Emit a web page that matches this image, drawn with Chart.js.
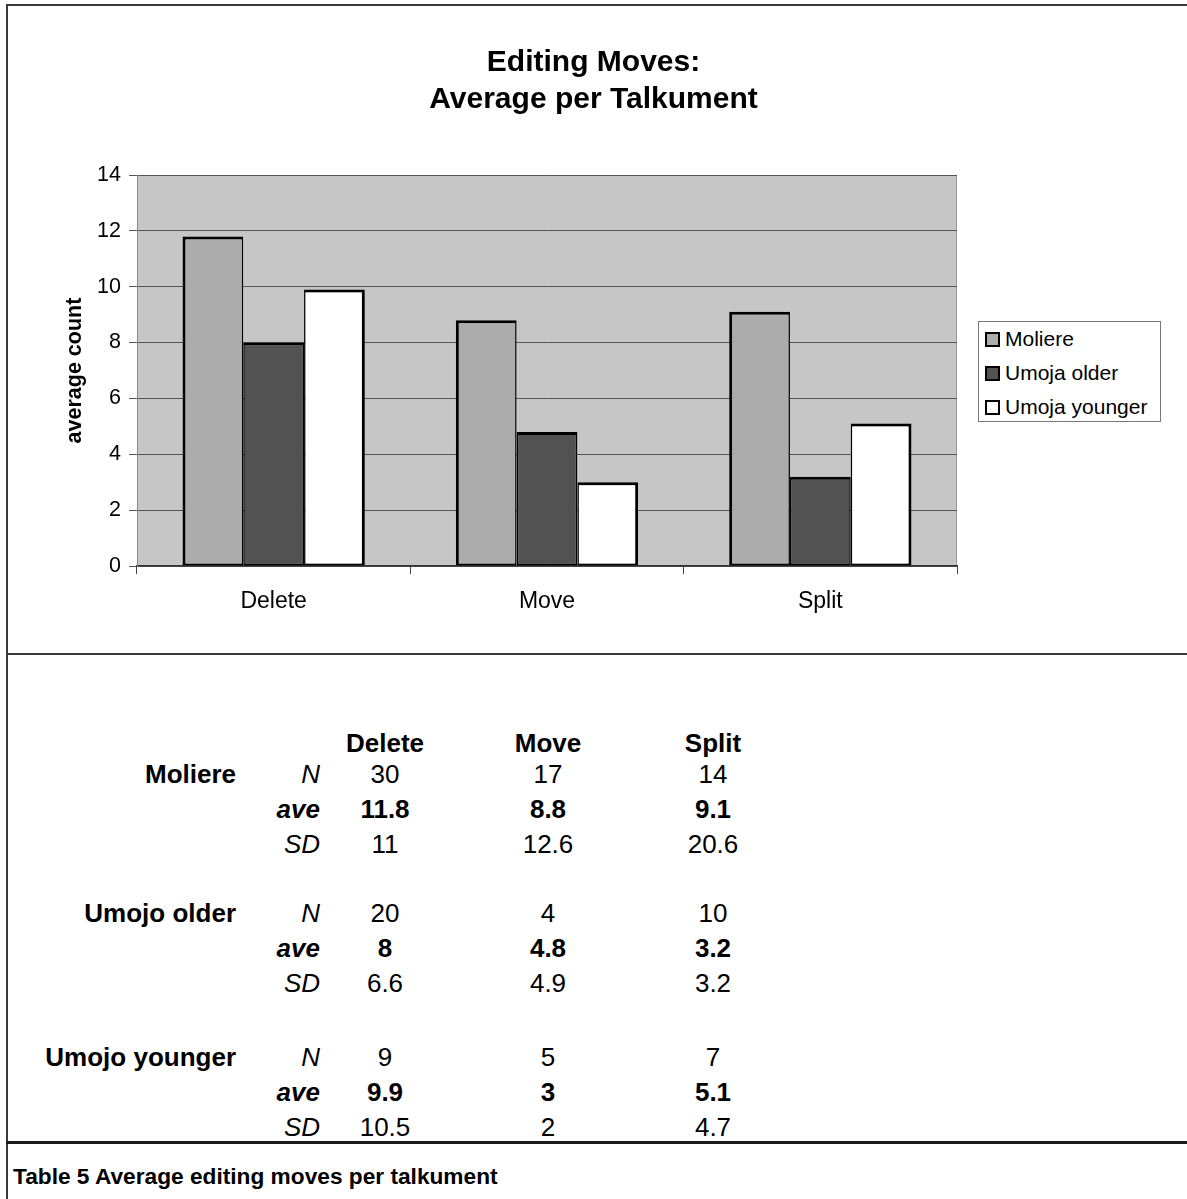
<!DOCTYPE html>
<html>
<head>
<meta charset="utf-8">
<title>Editing Moves</title>
<script src="https://cdn.jsdelivr.net/npm/chart.js@4.4.1/dist/chart.umd.min.js"></script>
<style>
  html, body { margin: 0; padding: 0; background: #fff; }
  body { width: 1187px; height: 1199px; position: relative; overflow: hidden;
         font-family: "Liberation Sans", Arial, sans-serif; color: #000; }
  #chart { position: absolute; left: 0; top: 0; }
  .rule { position: absolute; background: #3a3a3a; }
  #chart-legend { position: absolute; left: 978px; top: 321px; width: 181px; height: 99px;
                  border: 1px solid #777; background: #fff; }
  #chart-legend ul { list-style: none; margin: 0; padding: 0; }
  #chart-legend li { position: absolute; left: 6px; height: 24px; line-height: 24px; font-size: 21px; white-space: nowrap; }
  #chart-legend li span { display: inline-block; width: 11px; height: 11px; border: 2px solid #000;
                          margin-right: 5px; vertical-align: -1px; }
  .cell { position: absolute; height: 30px; line-height: 30px; font-size: 26px; white-space: nowrap; }
  .caption { position: absolute; left: 13px; top: 1163px; font-size: 22.7px; font-weight: bold; }
</style>
</head>
<body>
<div class="rule" style="left:6px; top:4px; width:1181px; height:2px;"></div>
<div class="rule" style="left:6px; top:4px; width:2px; height:1195px;"></div>
<div class="rule" style="left:6px; top:653px; width:1181px; height:2px;"></div>
<div class="rule" style="left:6px; top:1141px; width:1181px; height:3px; background:#1a1a1a;"></div>

<canvas id="chart" width="1187" height="640"></canvas>
<div id="chart-legend"></div>
<div id="table"></div>
<div class="caption">Table 5 Average editing moves per talkument</div>

<script>
// categories and series
var categories = ['Delete', 'Move', 'Split'];
var seriesNames = ['Moliere', 'Umoja older', 'Umoja younger'];
var tableNames = ['Moliere', 'Umojo older', 'Umojo younger'];
var statNames = ['N', 'ave', 'SD'];
var yTicks = [0, 2, 4, 6, 8, 10, 12, 14];

// per-group numbers (N, average, standard deviation) for Delete / Move / Split
var moliereN = [30, 17, 14];
var moliereAve = [11.8, 8.8, 9.1];
var moliereSD = [11, 12.6, 20.6];

var olderN = [20, 4, 10];
var olderAve = [8, 4.8, 3.2];
var olderSD = [6.6, 4.9, 3.2];

var youngerN = [9, 5, 7];
var youngerAve = [9.9, 3, 5.1];
var youngerSD = [10.5, 2, 4.7];

var FONT = '"Liberation Sans", Arial, sans-serif';
Chart.defaults.font.family = FONT;
Chart.defaults.color = '#000';

// grey fill behind the plot
var plotBackground = {
    id: 'plotBackground',
    beforeDraw: function(chart) {
        var a = chart.chartArea;
        var c = chart.ctx;
        c.save();
        c.fillStyle = '#c6c6c6';
        c.fillRect(a.left, a.top, a.right - a.left, a.bottom - a.top);
        c.strokeStyle = '#9a9a9a';
        c.lineWidth = 1;
        c.strokeRect(a.left + 0.5, a.top + 0.5, a.right - a.left - 1, a.bottom - a.top - 1);
        c.restore();
    }
};

var ctx = document.getElementById('chart');

var myChart = new Chart(ctx, {
    type: 'bar',
    data: {
        labels: categories,
        datasets: [{
            label: seriesNames[0],
            data: moliereAve,
            backgroundColor: '#acacac',
            borderColor: '#000',
            borderWidth: {top: 3, bottom: 2, left: 3, right: 1.5},
            borderSkipped: false
        }, {
            label: seriesNames[1],
            data: olderAve,
            backgroundColor: '#525252',
            borderColor: '#000',
            borderWidth: {top: 3, bottom: 2, left: 1.5, right: 1.5},
            borderSkipped: false
        }, {
            label: seriesNames[2],
            data: youngerAve,
            backgroundColor: '#ffffff',
            borderColor: '#000',
            borderWidth: {top: 3, bottom: 2, left: 1.5, right: 3},
            borderSkipped: false
        }]
    },
    options: {
        responsive: false,
        animation: false,
        categoryPercentage: 0.667,
        barPercentage: 1.0,
        layout: { padding: 0 },
        plugins: {
            legend: { display: false },
            tooltip: { enabled: false },
            title: {
                display: true,
                text: ['Editing Moves:', 'Average per Talkument'],
                color: '#000',
                font: { size: 30, weight: 'bold', lineHeight: 1.23 },
                padding: { top: 44.5, bottom: 56.7 }
            }
        },
        scales: {
            x: {
                grid: { drawOnChartArea: false, drawTicks: true, tickLength: 8, color: '#444', offset: true },
                border: { color: '#333', width: 1.5 },
                ticks: { font: { size: 23 }, color: '#000', padding: 14 },
                afterFit: function(scale) { scale.height = 74; }
            },
            y: {
                min: 0,
                max: 14,
                afterBuildTicks: function(scale) {
                    scale.ticks = yTicks.map(function(v) { return { value: v }; });
                },
                ticks: { font: { size: 21.5 }, color: '#000', padding: 8 },
                grid: { color: '#555', tickLength: 8 },
                border: { color: '#888' },
                title: {
                    display: true,
                    text: 'average count',
                    color: '#000',
                    font: { size: 21.5, weight: 'bold' },
                    padding: { top: 62, bottom: 0 }
                },
                afterFit: function(scale) { scale.width = 137; }
            },
            // keeps room on the right for the legend box
            spacer: {
                type: 'linear',
                position: 'right',
                grid: { display: false },
                border: { display: false },
                ticks: { display: false },
                afterFit: function(scale) { scale.width = 230; }
            }
        }
    },
    plugins: [plotBackground]
});

// legend as html, built from the chart's datasets
function buildLegend(chart) {
    var text = ['<ul>'];
    var tops = [5, 39, 73];
    chart.data.datasets.forEach(function(ds, i) {
        text.push('<li style="top:' + tops[i] + 'px">');
        text.push('<span style="background-color:' + ds.backgroundColor + '"></span>');
        text.push(ds.label);
        text.push('</li>');
    });
    text.push('</ul>');
    return text.join('');
}
document.getElementById('chart-legend').innerHTML = buildLegend(myChart);

// summary table under the chart
var groups = [
    { name: tableNames[0], rows: [moliereN, moliereAve, moliereSD] },
    { name: tableNames[1], rows: [olderN, olderAve, olderSD] },
    { name: tableNames[2], rows: [youngerN, youngerAve, youngerSD] }
];
var colX = [385, 548, 713];
var groupY = [774, 913, 1057];
var rowGap = 35;

function cell(html, x, y, align, style) {
    var d = document.createElement('div');
    d.className = 'cell';
    d.innerHTML = html;
    d.style.top = (y - 15) + 'px';
    if (align === 'right') {
        d.style.left = (x - 300) + 'px';
        d.style.width = '300px';
        d.style.textAlign = 'right';
    } else {
        d.style.left = (x - 80) + 'px';
        d.style.width = '160px';
        d.style.textAlign = 'center';
    }
    if (style) d.setAttribute('style', d.getAttribute('style') + ';' + style);
    document.getElementById('table').appendChild(d);
}

categories.forEach(function(c, j) {
    cell(c, colX[j], 743, 'center', 'font-weight:bold');
});

groups.forEach(function(g, gi) {
    var y0 = groupY[gi];
    cell(g.name, 236, y0, 'right', 'font-weight:bold');
    g.rows.forEach(function(vals, ri) {
        var y = y0 + ri * rowGap;
        var bold = statNames[ri] === 'ave';
        cell(statNames[ri], 320, y, 'right', 'font-style:italic' + (bold ? ';font-weight:bold' : ''));
        vals.forEach(function(v, j) {
            cell(String(v), colX[j], y, 'center', bold ? 'font-weight:bold' : '');
        });
    });
});
</script>
</body>
</html>
